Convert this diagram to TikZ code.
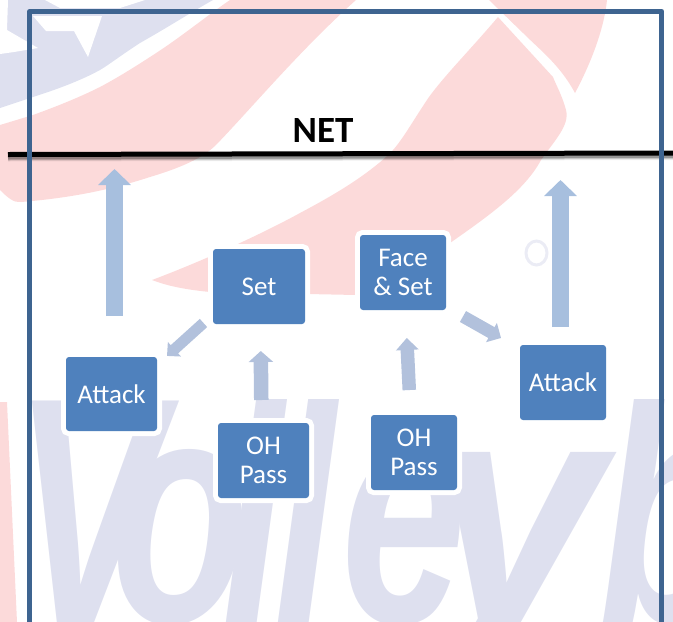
\documentclass[tikz,border=0pt]{standalone}
\usepackage{fontspec}
\usepackage{graphicx}
\setmainfont{Carlito}
\newfontfamily\wmfont{Liberation Sans}
\usetikzlibrary{arrows.meta,calc}
\definecolor{boxblue}{HTML}{4F81BD}
\definecolor{framec}{HTML}{3E6490}
\definecolor{pinkc}{HTML}{FCDADA}
\definecolor{wmblue}{HTML}{DEE0EF}
\definecolor{arrA}{HTML}{A7BFDE}
\definecolor{arrB}{HTML}{B2C1DC}
\tikzset{
  stepbox/.style={rounded corners=3pt,fill=boxblue,text=white,align=center,inner sep=0pt,outer sep=0pt,
    font=\fontsize{27}{29}\selectfont,preaction={draw=white,line width=10pt,rounded corners=5pt}},
  flowmain/.style={draw=arrA,line width=17pt,-{Triangle[length=16pt,width=32pt,fill=arrA]}}
}
\begin{document}
\begin{tikzpicture}[x=1pt,y=-1pt]
\useasboundingbox (0,0) rectangle (673,622);
\begin{scope}
\clip (0,0) rectangle (673,622);
% watermark: shield
\fill[wmblue] (0,0) -- (213,0) .. controls (190,13) and (170,26) .. (140,43) .. controls (120,56) and (110,64) .. (100,70) .. controls (80,81) and (55,90) .. (33,97) -- (0,108) -- cycle;
\fill[white] (0,0) -- (8,0) -- (7,30) -- (38,48) -- (14,52) -- (0,54) -- cycle;
\fill[white] (45,0) -- (145,0) -- (120,8) -- (60,8) -- cycle;
\fill[white] (33,16) -- (102,16) -- (88,57) -- (74,31) -- (46,31) -- cycle;
% watermark: red swoosh
\fill[pinkc] (230,0) .. controls (205,17) and (180,38) .. (150,57) .. controls (130,70) and (115,79) .. (100,87) .. controls (78,98) and (55,107) .. (33,115) -- (0,125)
  -- (0,190) .. controls (8,198) and (14,203) .. (21,202) .. controls (70,198) and (110,190) .. (150,177)
  .. controls (190,165) and (205,155) .. (215,146) .. controls (250,110) and (300,50) .. (356,0) -- cycle;
\fill[pinkc] (498,17) .. controls (470,50) and (445,75) .. (429,97) .. controls (410,125) and (400,145) .. (386,157)
  .. controls (360,180) and (330,197) .. (300,213) .. controls (260,235) and (200,262) .. (152,280)
  .. controls (170,287) and (190,290) .. (210,292) -- (356,295)
  .. controls (390,280) and (420,265) .. (450,243) .. controls (490,215) and (525,190) .. (541,160)
  .. controls (555,140) and (570,125) .. (566,110) .. controls (562,95) and (556,85) .. (553,77) -- cycle;
\fill[pinkc] (489,0) -- (607,0) .. controls (604,30) and (590,65) .. (575,93) .. controls (560,65) and (540,50) .. (523,33) -- cycle;
\fill[pinkc] (0,402) -- (7,402) -- (17,622) -- (0,622) -- cycle;
\draw[draw=wmblue!60,line width=3pt] (536.5,253) ellipse (10.5 and 12);
\end{scope}
% watermark: lettering
\begin{scope}
\clip (0,399) rectangle (673,622);
\node[anchor=base west,inner sep=0pt,text=wmblue,xscale=.7,font=\wmfont\itshape\bfseries\fontsize{322}{322}\selectfont] (wmtext) at (13,622) {V\kern-74pt o\kern-38pt l\kern-16pt l\kern6pt e\kern-54pt \scalebox{1.4}[1]{y}\kern-7pt b};
\end{scope}
% net
\coordinate (netA) at (8,154.5);
\coordinate (netB) at (673,153);
\foreach \d/\o in {8/.06,6.5/.1,5/.14,3.5/.2}{
  \draw[black,line width=\d pt,opacity=\o] ([yshift=-3pt]netA) -- ([yshift=-3pt]netB);
}
\draw[black,line width=5pt] (netA) -- (netB);
% frame
\draw[framec,line width=5.3pt,line join=round] (29.7,640) -- (29.7,11.5) -- (661.8,11.5) -- (661.8,640);
\node[font=\bfseries\fontsize{37}{37}\selectfont,inner sep=0pt] (netlabel) at (323,130) {NET};
% boxes
\node[stepbox,minimum width=92pt,minimum height=75pt] (setb) at (259,286.5) {Set};
\node[stepbox,minimum width=86pt,minimum height=75pt] (face) at (403,272.5) {Face\\\& Set};
\node[stepbox,minimum width=91pt,minimum height=74pt] (atkL) at (111.5,394) {Attack};
\node[stepbox,minimum width=91pt,minimum height=75pt] (ohA) at (263.5,460.5) {OH\\Pass};
\node[stepbox,minimum width=86pt,minimum height=75pt] (ohB) at (414,452.5) {OH\\Pass};
\node[stepbox,minimum width=86pt,minimum height=75pt] (atkR) at (563,382.5) {Attack};
% free arrow ends
\coordinate (endL) at (114.5,169);
\coordinate (endR) at (560.5,180);
% arrows
\draw[flowmain,shorten <=41pt] ([xshift=3pt]atkL.north) -- (endL);
\draw[flowmain,shorten <=18pt] ([xshift=-2.5pt]atkR.north) -- (endR);
\draw[draw=arrB,line width=11pt,-{Triangle[length=10pt,width=19pt,fill=arrB]},shorten <=12.8pt,shorten >=13.5pt]
  ([yshift=-27.9pt]setb.west) -- ([yshift=29pt]atkL.east);
\draw[draw=arrB,line width=14.5pt,-{Triangle[length=11pt,width=24pt,fill=arrB]},shorten <=23pt,shorten >=27pt]
  ([xshift=-2pt]ohA.north) -- ([xshift=1.5pt]setb.south);
\draw[draw=arrB,line width=13.5pt,-{Triangle[length=12pt,width=22pt,fill=arrB]},shorten <=25pt,shorten >=28pt]
  ([xshift=-3.5pt]ohB.north) -- ([xshift=2.4pt]face.south);
\draw[draw=arrB,line width=12.5pt,-{Triangle[length=11pt,width=21.5pt,fill=arrB]},shorten <=19.5pt,shorten >=21.8pt]
  ([yshift=-34.4pt]face.east) -- ([yshift=33.8pt]atkR.west);
\end{tikzpicture}
\end{document}
